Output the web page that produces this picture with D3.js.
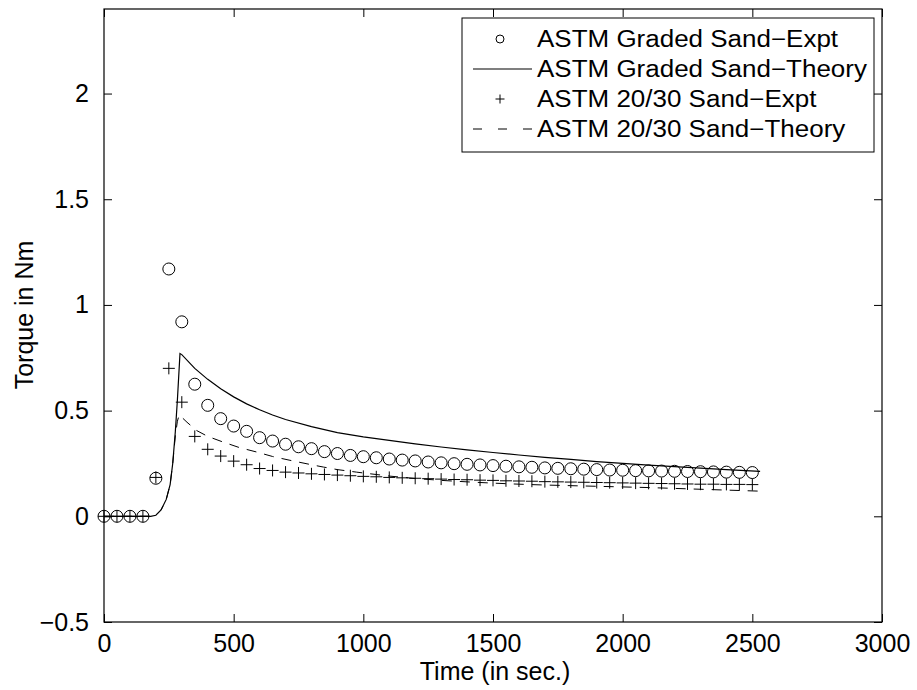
<!DOCTYPE html>
<html>
<head>
<meta charset="utf-8">
<script src="https://cdn.jsdelivr.net/npm/d3@7"></script>
<style>
  body { margin: 0; background: #fff; }
  svg text { font-family: Arial, "Liberation Sans", Helvetica, sans-serif; fill: #000; }
</style>
</head>
<body>
<svg id="chart" width="917" height="690"></svg>
<script>
// experimental time steps (s)
var exptTime = [0,50,100,150,200,250,300,350,400,450,500,550,600,650,700,750,800,850,900,950,
  1000,1050,1100,1150,1200,1250,1300,1350,1400,1450,1500,1550,1600,1650,1700,1750,1800,1850,1900,1950,
  2000,2050,2100,2150,2200,2250,2300,2350,2400,2450,2500];
// ASTM Graded Sand - Expt (circles)
var gradedExpt = [0,0,0,0,0.18,1.17,0.92,0.625,0.525,0.462,0.427,0.402,0.372,0.356,0.341,0.329,0.32,0.306,0.297,0.288,
  0.282,0.277,0.271,0.266,0.262,0.257,0.253,0.249,0.246,0.243,0.24,0.237,0.234,0.232,0.229,0.227,0.225,0.223,0.221,0.219,
  0.218,0.216,0.215,0.214,0.213,0.212,0.211,0.21,0.209,0.208,0.207];
// ASTM 20/30 Sand - Expt (plus)
var sand2030Expt = [0,0,0,0,0.184,0.70,0.54,0.378,0.317,0.285,0.261,0.244,0.226,0.217,0.209,0.205,0.201,0.198,0.195,0.192,
  0.189,0.187,0.184,0.182,0.18,0.178,0.176,0.174,0.173,0.171,0.17,0.168,0.167,0.166,0.164,0.163,0.162,0.161,0.16,0.159,
  0.158,0.157,0.156,0.155,0.154,0.153,0.152,0.152,0.151,0.151,0.15];

// ASTM Graded Sand - Theory (solid)
var gradedTheoryTime = [0,180,200,220,240,255,265,275,283,293,300,350,400,450,500,550,600,650,700,800,900,
  1000,1100,1200,1300,1400,1500,1600,1700,1800,1900,2000,2100,2200,2300,2400,2530];
var gradedTheory = [0,0,0.005,0.03,0.08,0.15,0.25,0.4,0.55,0.77,0.765,0.7,0.648,0.603,0.565,0.532,0.504,0.479,0.458,0.424,0.396,
  0.376,0.359,0.343,0.328,0.314,0.302,0.29,0.279,0.269,0.259,0.25,0.242,0.235,0.228,0.221,0.213];

// ASTM 20/30 Sand - Theory (dashed)
var sandTheoryTime = [0,180,200,220,240,255,265,275,283,290,320,357,400,460,520,589,650,717,800,846,900,974,
  1000,1103,1200,1300,1400,1500,1600,1700,1800,1900,2000,2100,2200,2300,2400,2530];
var sandTheory = [0,0,0.005,0.03,0.08,0.15,0.25,0.38,0.45,0.48,0.445,0.406,0.378,0.351,0.326,0.304,0.283,0.265,0.244,0.233,0.221,0.209,
  0.205,0.19,0.179,0.17,0.163,0.157,0.152,0.148,0.145,0.142,0.139,0.136,0.132,0.128,0.124,0.119];

var xTicks = [0,500,1000,1500,2000,2500,3000];
var yTicks = [-0.5,0,0.5,1,1.5,2];
var legendLabels = ["ASTM Graded Sand\u2212Expt","ASTM Graded Sand\u2212Theory","ASTM 20/30 Sand\u2212Expt","ASTM 20/30 Sand\u2212Theory"];

(function () {
  var svg = d3.select("#chart");
  var mLeft = 104, mRight = 882, mTop = 9, mBottom = 622;

  var x = d3.scaleLinear().domain([0, 3000]).range([mLeft, mRight]);
  var y = d3.scaleLinear().domain([-0.5, 2.4]).range([mBottom, mTop]);

  function tickFmt(d) { return String(d).replace("-", "\u2212"); }

  // axes, ticks inward on all four sides
  var gx = svg.append("g").attr("transform", "translate(0," + mBottom + ")")
    .call(d3.axisBottom(x).tickValues(xTicks).tickSize(-8).tickPadding(12).tickFormat(tickFmt));
  var gxt = svg.append("g").attr("transform", "translate(0," + mTop + ")")
    .call(d3.axisTop(x).tickValues(xTicks).tickSize(-8).tickFormat(""));
  var gy = svg.append("g").attr("transform", "translate(" + mLeft + ",0)")
    .call(d3.axisLeft(y).tickValues(yTicks).tickSize(-8).tickPadding(15).tickFormat(tickFmt));
  var gyr = svg.append("g").attr("transform", "translate(" + mRight + ",0)")
    .call(d3.axisRight(y).tickValues(yTicks).tickSize(-8).tickFormat(""));

  [gx, gxt, gy, gyr].forEach(function (g) {
    g.select(".domain").remove();
    g.selectAll("line").attr("stroke", "#000").attr("stroke-width", 1);
    g.selectAll("text").attr("font-size", 25).attr("fill", "#000")
      .attr("font-family", "Arial, 'Liberation Sans', sans-serif");
  });
  gx.selectAll("text").attr("dy", "0.71em");

  svg.append("rect")
    .attr("x", mLeft).attr("y", mTop)
    .attr("width", mRight - mLeft).attr("height", mBottom - mTop)
    .attr("fill", "none").attr("stroke", "#000").attr("stroke-width", 1.2);

  // axis titles
  svg.append("text").attr("x", 495).attr("y", 680)
    .attr("text-anchor", "middle").attr("font-size", 25).text("Time (in sec.)");
  svg.append("text").attr("transform", "translate(33,315) rotate(-90)")
    .attr("text-anchor", "middle").attr("font-size", 25).text("Torque in Nm");

  // theory lines
  var line = d3.line().x(function (d) { return x(d[0]); }).y(function (d) { return y(d[1]); });

  svg.append("path")
    .datum(d3.zip(sandTheoryTime, sandTheory))
    .attr("d", line).attr("fill", "none").attr("stroke", "#000")
    .attr("stroke-width", 1).attr("stroke-dasharray", "10,8");

  svg.append("path")
    .datum(d3.zip(gradedTheoryTime, gradedTheory))
    .attr("d", line).attr("fill", "none").attr("stroke", "#000").attr("stroke-width", 1.2);

  // experimental markers
  svg.append("g").selectAll("circle")
    .data(d3.zip(exptTime, gradedExpt))
    .enter().append("circle")
    .attr("cx", function (d) { return x(d[0]); })
    .attr("cy", function (d) { return y(d[1]); })
    .attr("r", 6).attr("fill", "none").attr("stroke", "#000").attr("stroke-width", 1);

  function plusPath(s) { return "M" + (-s) + ",0H" + s + "M0," + (-s) + "V" + s; }

  svg.append("g").selectAll("path")
    .data(d3.zip(exptTime, sand2030Expt))
    .enter().append("path")
    .attr("transform", function (d) { return "translate(" + x(d[0]) + "," + y(d[1]) + ")"; })
    .attr("d", plusPath(6)).attr("fill", "none").attr("stroke", "#000").attr("stroke-width", 1);

  // legend
  var lg = svg.append("g");
  lg.append("rect").attr("x", 462).attr("y", 18).attr("width", 412).attr("height", 134)
    .attr("fill", "#fff").attr("stroke", "#000").attr("stroke-width", 1);

  var rowY = [39, 69, 99, 129];
  legendLabels.forEach(function (lab, i) {
    lg.append("text")
      .attr("transform", "translate(537," + (rowY[i] + 8) + ") scale(1.13,1)")
      .attr("font-size", 23).text(lab);
  });
  lg.append("circle").attr("cx", 500).attr("cy", rowY[0]).attr("r", 4)
    .attr("fill", "none").attr("stroke", "#000").attr("stroke-width", 1);
  lg.append("line").attr("x1", 473).attr("x2", 532).attr("y1", rowY[1]).attr("y2", rowY[1])
    .attr("stroke", "#000").attr("stroke-width", 1.2);
  lg.append("path").attr("transform", "translate(500," + rowY[2] + ")")
    .attr("d", plusPath(4.5)).attr("fill", "none").attr("stroke", "#000").attr("stroke-width", 1);
  lg.append("line").attr("x1", 473).attr("x2", 532).attr("y1", rowY[3]).attr("y2", rowY[3])
    .attr("stroke", "#000").attr("stroke-width", 1).attr("stroke-dasharray", "9,16");
})();
</script>
</body>
</html>
